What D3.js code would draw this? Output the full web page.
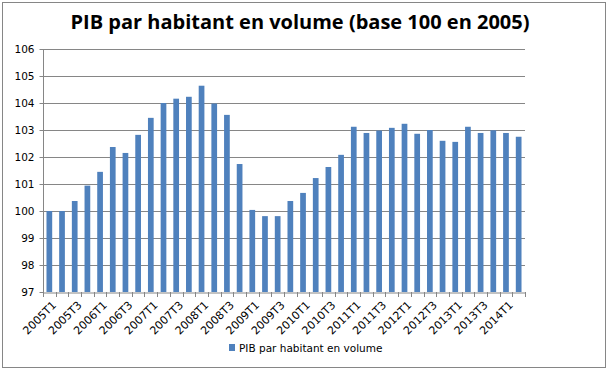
<!DOCTYPE html>
<html>
<head>
<meta charset="utf-8">
<title>PIB par habitant</title>
<script src="https://d3js.org/d3.v7.min.js"></script>
<style>
  body { margin: 0; background: #fff; }
</style>
</head>
<body>
<div id="chart"></div>
<script>
// trimestres 2005T1 .. 2014T2
let years = ["2005","2006","2007","2008","2009","2010","2011","2012","2013","2014"];
let quarters = [];
years.forEach(function(y) {
    ["T1","T2","T3","T4"].forEach(function(q) { quarters.push(y + q); });
});
quarters = quarters.slice(0, 38);

let values = [
    100.0, 100.0, 100.37, 100.94, 101.45, 102.37, 102.15, 102.82,
    103.45, 104.0, 104.16, 104.23, 104.64, 103.98, 103.56, 101.74,
    100.04, 99.81, 99.81, 100.37, 100.67, 101.22, 101.63, 102.08,
    103.12, 102.89, 102.98, 103.08, 103.23, 102.86, 103.0, 102.6,
    102.56, 103.12, 102.89, 102.99, 102.89, 102.75
];
let yTicks = [97, 98, 99, 100, 101, 102, 103, 104, 105, 106];
let seriesName = "PIB par habitant en volume";

let W = 610, H = 372;
let margin = {top: 49, right: 85, bottom: 80, left: 43};
let w = W - margin.left - margin.right;
let h = H - margin.top - margin.bottom;

let svg = d3.select("#chart").append("svg")
    .attr("width", W).attr("height", H);

// cadre
svg.append("rect")
    .attr("x", 2.5).attr("y", 2.5)
    .attr("width", 603).attr("height", 365)
    .attr("fill", "#fff").attr("stroke", "#868686");

svg.append("text")
    .attr("x", 300).attr("y", 29)
    .attr("text-anchor", "middle")
    .attr("font-family", "Open Sans, sans-serif")
    .attr("font-weight", "bold")
    .attr("font-size", "20px")
    .text("PIB par habitant en volume (base 100 en 2005)");

let g = svg.append("g")
    .attr("transform", "translate(" + margin.left + "," + margin.top + ")");

let x = d3.scaleBand().domain(quarters).range([0, w]).paddingInner(0.55).paddingOuter(0.275);
let xb = d3.scaleBand().domain(quarters).range([0, w]);
let y = d3.scaleLinear().domain([97, 106]).range([h, 0]);

// grille
g.selectAll(".grid").data(yTicks.slice(1)).enter().append("line")
    .attr("x1", 0).attr("x2", w)
    .attr("y1", function(d) { return Math.round(y(d)) + 0.5; })
    .attr("y2", function(d) { return Math.round(y(d)) + 0.5; })
    .attr("stroke", "#868686");

g.selectAll(".bar").data(values).enter().append("rect")
    .attr("x", function(d, i) { return x(quarters[i]); })
    .attr("y", function(d) { return y(d); })
    .attr("width", x.bandwidth())
    .attr("height", function(d) { return h - y(d); })
    .attr("fill", "#4f81bd");

// axe vertical
let yAxis = d3.axisLeft(y).tickValues(yTicks).tickSize(4).tickPadding(5);
let ya = g.append("g").attr("transform", "translate(0.5,0)").call(yAxis);
ya.selectAll("line, path").attr("stroke", "#868686");
ya.selectAll("text").attr("font-family", "DejaVu Sans, Verdana, sans-serif")
    .attr("font-size", "10.5px").attr("fill", "#000");
ya.select(".domain").attr("d", "M0," + h + "V0");

// axe horizontal
let xAxis = d3.axisBottom(xb).tickSize(0).tickFormat("");
let xa = g.append("g").attr("transform", "translate(0," + (Math.round(h) + 0.5) + ")").call(xAxis);
xa.selectAll("path").attr("stroke", "#868686");
xa.selectAll(".tick").remove();
// petits traits entre catégories
g.selectAll(".xt").data(quarters.concat(["end"])).enter().append("line")
    .attr("x1", function(d, i) { return Math.round(i * xb.step()) + 0.5; })
    .attr("x2", function(d, i) { return Math.round(i * xb.step()) + 0.5; })
    .attr("y1", h).attr("y2", h + 5)
    .attr("stroke", "#868686");

g.selectAll(".xl").data(quarters.filter(function(d, i) { return i % 2 === 0; }))
    .enter().append("text")
    .attr("transform", function(d) {
        return "translate(" + (x(d) + x.bandwidth() / 2 + 5) + "," + (h + 11) + ") rotate(-45)";
    })
    .attr("text-anchor", "end")
    .attr("dy", "0.35em")
    .attr("font-family", "DejaVu Sans, Verdana, sans-serif")
    .attr("font-size", "11px")
    .text(function(d) { return d; });

// légende
let leg = svg.append("g").attr("transform", "translate(229,344)");
leg.append("rect").attr("width", 6).attr("height", 7).attr("fill", "#4f81bd");
leg.append("text").attr("x", 10).attr("y", 8)
    .attr("font-family", "DejaVu Sans, Verdana, sans-serif")
    .attr("font-size", "10.5px")
    .text(seriesName);
</script>
</body>
</html>
